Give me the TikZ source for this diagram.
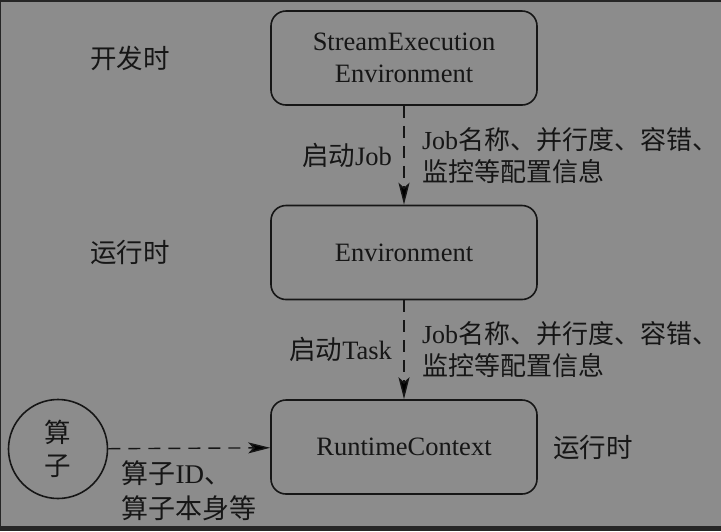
\documentclass[tikz,border=0pt]{standalone}
\usepackage{fontspec}
\setmainfont{Liberation Serif}
\newfontfamily\zhfont{Noto Sans CJK SC}
\newcommand{\zh}[1]{{\zhfont #1}}
\usetikzlibrary{positioning, arrows.meta}
\definecolor{bggray}{HTML}{8C8C8C}
\definecolor{framegray}{HTML}{262626}
\definecolor{ink}{HTML}{161616}

\begin{document}
\begin{tikzpicture}[x=1pt, y=-1pt, node distance=194.5pt, on grid,
    font=\fontsize{26.5}{32}\selectfont, text=ink,
    box/.style={draw=ink, line width=1.6pt, rounded corners=15pt, minimum width=266pt, minimum height=94pt, align=center},
    op/.style={draw=ink, line width=1.6pt, circle, minimum size=99pt, align=center, font=\fontsize{26.5}{33}\selectfont},
    flow/.style={draw=ink, line width=1.4pt, dash pattern=on 12pt off 8pt, -{Stealth[length=22pt, width=11pt, inset=5pt]}},
    info/.style={align=left, font=\fontsize{26}{32}\selectfont}]
   \fill[framegray] (0,0) rectangle (721,531);
   \fill[bggray] (1,2) rectangle (721,526);
   \useasboundingbox (0,0) rectangle (721,531);

   \node[box] (sEnv) at (404,58) {StreamExecution\\Environment};
   \node[box] (rtEnv) [below=of sEnv] {Environment};
   \node[box] (rtCtx) [below=of rtEnv] {RuntimeContext};
   \node[op] (op) [left=346pt of rtCtx, yshift=-2pt] {\zh{算}\\\zh{子}};

   \node (devTime) [left=274pt of sEnv] {\zh{开发时}};
   \node (runTime) [left=274pt of rtEnv] {\zh{运行时}};
   \node (ctxTime) [right=189pt of rtCtx] {\zh{运行时}};

   \path[flow]
    (sEnv) edge node[left=8pt] {\zh{启动}Job}
                node[right=14pt, info] {Job\zh{名称、并行度、容错、}\\\zh{监控等配置信息}} (rtEnv)
    (rtEnv) edge node[left=8pt] {\zh{启动}Task}
                node[right=14pt, info] {Job\zh{名称、并行度、容错、}\\\zh{监控等配置信息}} (rtCtx)
    (op) edge node[below=8pt, info, font=\fontsize{27}{35}\selectfont] {\zh{算子}ID\zh{、}\\\zh{算子本身等}} (rtCtx);
\end{tikzpicture}
\end{document}
